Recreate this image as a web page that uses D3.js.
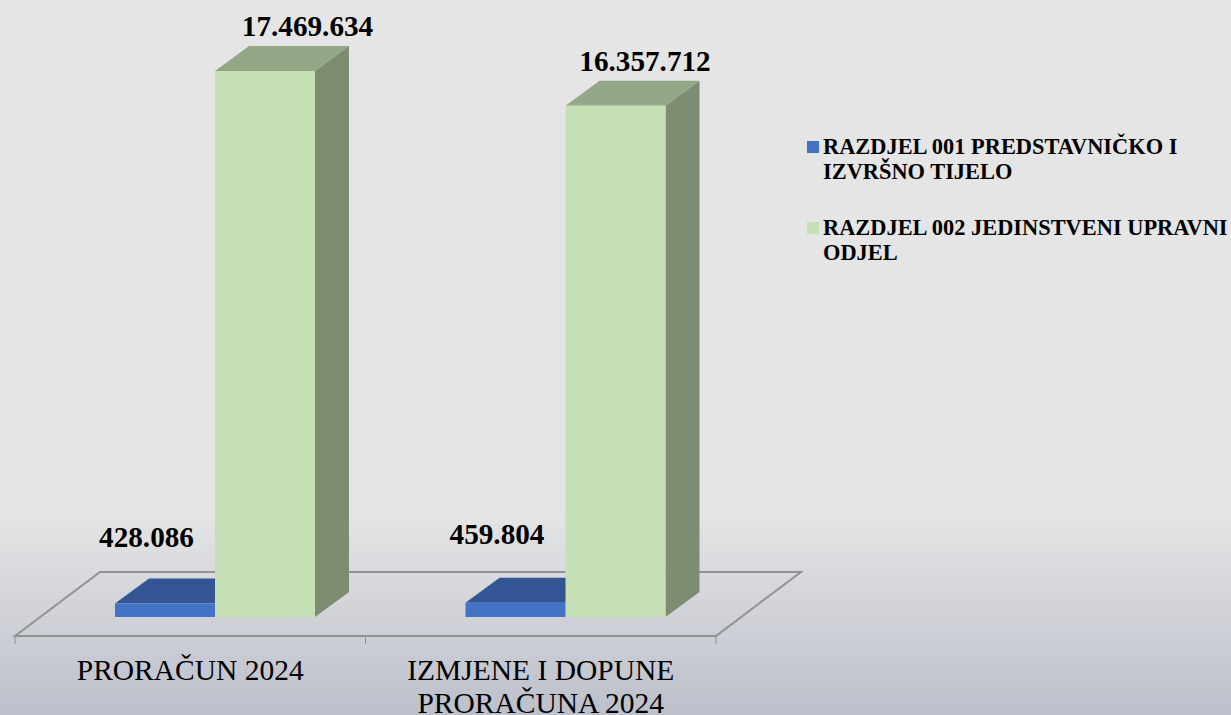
<!DOCTYPE html>
<html>
<head>
<meta charset="utf-8">
<script src="https://cdn.jsdelivr.net/npm/d3@7"></script>
<style>
  html, body { margin: 0; padding: 0; background: #e5e5e5; }
  svg { display: block; }
  text { font-family: "Liberation Serif", "Times New Roman", serif; fill: #000; }
</style>
</head>
<body>
<svg id="chart" width="1231" height="715"></svg>
<script>
const categories = ["PRORAČUN 2024", "IZMJENE I DOPUNE PRORAČUNA 2024"];
const categoryLines = [["PRORAČUN 2024"], ["IZMJENE I DOPUNE", "PRORAČUNA 2024"]];
const seriesNames = ["RAZDJEL 001", "RAZDJEL 002"];
const razdjel001 = [428086, 459804];
const razdjel002 = [17469634, 16357712];
const legendLines = [
  ["RAZDJEL 001 PREDSTAVNIČKO I", "IZVRŠNO TIJELO"],
  ["RAZDJEL 002 JEDINSTVENI UPRAVNI", "ODJEL"]
];

const front = ["#4472c4", "#c5e0b4"];
const topFace = ["#335593", "#94a887"];
const side = ["#2a4679", "#7e8d72"];

// 3D pomak dubine
const depthX = 34, depthY = -25;
const floorX = 85, floorY = -64;

// rucni pomaci oznaka vrijednosti (kategorija, serija)
const labelDx = [[-18.5, 42.5], [-18.5, 29.5]];
const labelDy = [[-57, -35], [-58.5, -35]];

const svg = d3.select("#chart");

const grad = svg.append("defs").append("linearGradient")
  .attr("id", "bg").attr("x1", 0).attr("y1", 0).attr("x2", 0).attr("y2", 1);
grad.append("stop").attr("offset", "0.715").attr("stop-color", "#e5e5e5");
grad.append("stop").attr("offset", "1").attr("stop-color", "#bcc0cb");

svg.append("rect").attr("width", 1231).attr("height", 715).attr("fill", "url(#bg)");

const x0 = d3.scaleBand().domain(categories).range([15, 716]);
const x1 = d3.scaleBand().domain(seriesNames).range([100, 300]);
const y = d3.scaleLinear().domain([0, razdjel002[0]]).range([617, 71]);

// pod grafikona
const floorTop = 636;
const floorPts = [
  [15, floorTop], [716, floorTop],
  [716 + floorX, floorTop + floorY], [15 + floorX, floorTop + floorY]
];
svg.append("polygon")
  .attr("points", floorPts.join(" "))
  .attr("fill", "none")
  .attr("stroke", "#929292")
  .attr("stroke-width", 2);

// crtice na osi
const tickXs = [...categories.map(c => x0(c)), x0.range()[1]];
svg.selectAll("line.tick").data(tickXs).join("line")
  .attr("class", "tick")
  .attr("x1", d => d).attr("x2", d => d)
  .attr("y1", floorTop).attr("y2", floorTop + 8)
  .attr("stroke", "#929292")
  .attr("stroke-width", 1);

const bars = [];
categories.forEach((c, i) => {
  bars.push({ c, i, s: 0, v: razdjel001[i] });
  bars.push({ c, i, s: 1, v: razdjel002[i] });
});

bars.forEach(d => {
  const xa = x0(d.c) + x1(seriesNames[d.s]);
  const xb = xa + x1.bandwidth();
  const ya = y(d.v), yb = y(0);
  const g = svg.append("g");
  g.append("polygon")
    .attr("points", [[xa, ya], [xb, ya], [xb + depthX, ya + depthY], [xa + depthX, ya + depthY]].join(" "))
    .attr("fill", topFace[d.s]);
  g.append("polygon")
    .attr("points", [[xb, ya], [xb + depthX, ya + depthY], [xb + depthX, yb + depthY], [xb, yb]].join(" "))
    .attr("fill", side[d.s]);
  g.append("rect")
    .attr("x", xa).attr("y", ya)
    .attr("width", xb - xa).attr("height", yb - ya)
    .attr("fill", front[d.s]);
});

// vrijednosti
const fmt = v => d3.format(",")(v).replace(/,/g, ".");
svg.selectAll("text.value").data(bars).join("text")
  .attr("class", "value")
  .attr("x", d => x0(d.c) + x1(seriesNames[d.s]) + x1.bandwidth() / 2 + labelDx[d.i][d.s])
  .attr("y", d => y(d.v) + labelDy[d.i][d.s])
  .attr("text-anchor", "middle")
  .attr("font-size", 29.2)
  .attr("font-weight", "bold")
  .text(d => fmt(d.v));

// kategorije
categoryLines.forEach((lines, i) => {
  const cx = x0(categories[i]) + x0.bandwidth() / 2;
  lines.forEach((line, j) => {
    svg.append("text")
      .attr("x", cx)
      .attr("y", 680 + j * 33)
      .attr("text-anchor", "middle")
      .attr("font-size", 29.5)
      .text(line);
  });
});

// legenda
const legendY = [153.5, 234.7];
legendLines.forEach((lines, i) => {
  svg.append("rect")
    .attr("x", 807).attr("y", Math.round(legendY[i]) - 13)
    .attr("width", 12).attr("height", 12)
    .attr("fill", front[i]);
  lines.forEach((line, j) => {
    svg.append("text")
      .attr("x", 823)
      .attr("y", legendY[i] + j * 25.5)
      .attr("font-size", 22.4)
      .attr("font-weight", "bold")
      .text(line);
  });
});
</script>
</body>
</html>
